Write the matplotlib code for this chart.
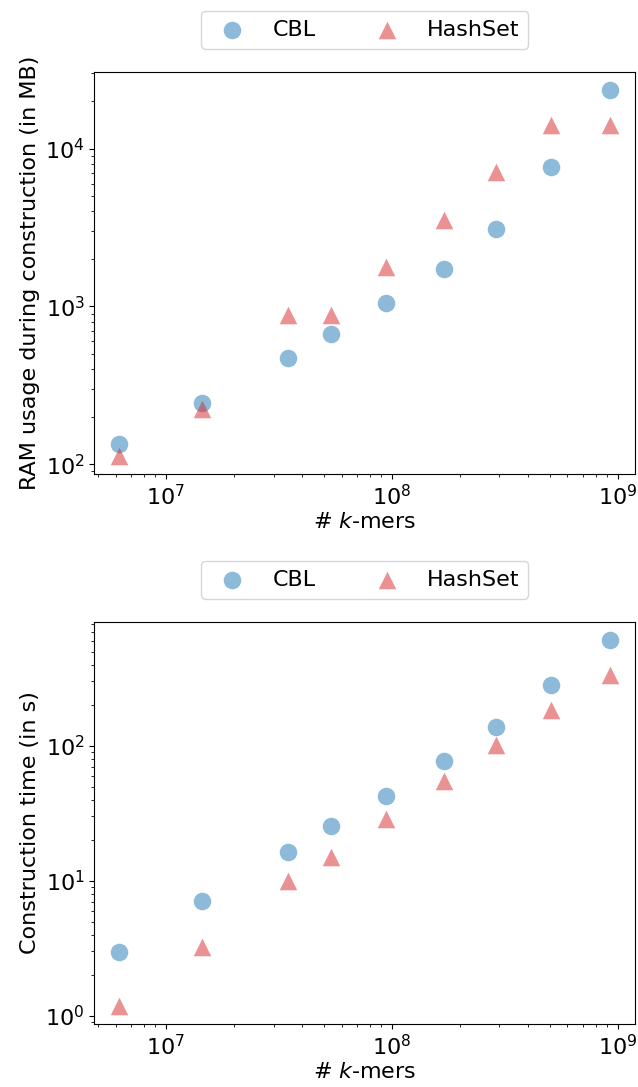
import matplotlib
matplotlib.use("Agg")
import matplotlib.pyplot as plt

kmers = [6.2e6, 1.44e7, 3.49e7, 5.41e7, 9.46e7, 1.70e8, 2.90e8, 5.07e8, 9.3e8]
ram_cbl = [135, 245, 469, 665, 1046, 1725, 3080, 7600, 23500]
ram_hashset = [113, 222, 885, 885, 1770, 3530, 7080, 14100, 14100]
time_cbl = [2.99, 7.04, 16.5, 25.3, 42.3, 77.6, 139, 283, 608]
time_hashset = [1.19, 3.22, 9.9, 15.1, 28.8, 55.2, 102, 185, 334]

labels = ["CBL", "HashSet"]
xlabel = "# $k$-mers"
ylabels = ["RAM usage during construction (in MB)", "Construction time (in s)"]

FS = 16
plt.rcParams['font.size'] = FS

fig = plt.figure(figsize=(6.38, 10.87), dpi=100)
left, right = 0.1478, 0.9953
ax1 = fig.add_axes([left, 0.5639, right - left, 0.934 - 0.5639])
ax2 = fig.add_axes([left, 0.058, right - left, 0.428 - 0.058])

for ax, cbl, hs, yl in [(ax1, ram_cbl, ram_hashset, ylabels[0]),
                        (ax2, time_cbl, time_hashset, ylabels[1])]:
    ax.scatter(kmers, cbl, s=160, marker='o', color='tab:blue', alpha=0.5,
               linewidths=0, label=labels[0])
    ax.scatter(kmers, hs, s=160, marker='^', color='tab:red', alpha=0.5,
               linewidths=0, label=labels[1])
    ax.set_xscale('log')
    ax.set_yscale('log')
    ax.set_xlabel(xlabel, fontsize=FS, labelpad=2)
    ax.set_ylabel(yl, fontsize=FS)
    ax.tick_params(labelsize=FS)
    ax.legend(loc='lower center', bbox_to_anchor=(0.5, 1.03), ncol=2,
              fontsize=FS, columnspacing=2.2)

fig.savefig("out.png", dpi=100)
